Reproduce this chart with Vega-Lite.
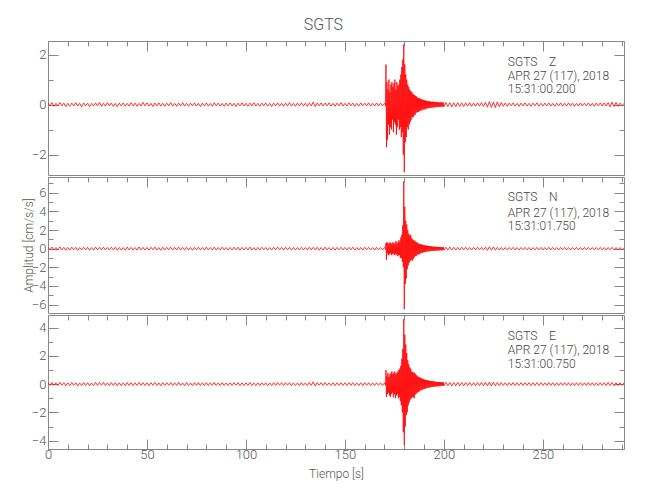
{
"$schema": "https://vega.github.io/schema/vega-lite/v6.json",
"padding": {"left": 21, "top": 17, "right": 5, "bottom": 5},
"title": {"text": "SGTS", "font": "Roboto", "fontSize": 16, "fontWeight": 300, "color": "#555", "offset": 7, "anchor": "middle"},
"spacing": 0,
"datasets": {
"w": [{
"t": [0,1,2,3,4,5,6,7,8,9,10,11,12,13,14,15,16,17,18,19,20,21,22,23,24,25,26,27,28,29,30,31,32,33,34,35,36,37,38,39,40,41,42,43,44,45,46,47,48,49,50,51,52,53,54,55,56,57,58,59,60,61,62,63,64,65,66,67,68,69,70,71,72,73,74,75,76,77,78,79,80,81,82,83,84,85,86,87,88,89,90,91,92,93,94,95,96,97,98,99,100,101,102,103,104,105,106,107,108,109,110,111,112,113,114,115,116,117,118,119,120,121,122,123,124,125,126,127,128,129,130,131,132,133,134,135,136,137,138,139,140,141,142,143,144,145,146,147,148,149,150,151,152,153,154,155,156,157,158,159,160,161,162,163,164,165,166,167,168,169,170,
170.25,170.5,170.75,171,171.25,171.5,171.75,172,172.25,172.5,172.75,173,173.25,173.5,173.75,174,174.25,174.5,174.75,175,175.25,175.5,175.75,176,176.25,176.5,176.75,177,177.25,177.5,177.75,178,178.25,178.5,178.75,179,179.25,179.5,179.75,180,
180.25,180.5,180.75,181,181.25,181.5,181.75,182,182.25,182.5,182.75,183,183.25,183.5,183.75,184,184.25,184.5,184.75,185,185.25,185.5,185.75,186,186.25,186.5,186.75,187,187.25,187.5,187.75,188,188.25,188.5,188.75,189,189.25,189.5,189.75,190,
190.25,190.5,190.75,191,191.25,191.5,191.75,192,192.25,192.5,192.75,193,193.25,193.5,193.75,194,194.25,194.5,194.75,195,195.25,195.5,195.75,196,196.25,196.5,196.75,197,197.25,197.5,197.75,198,198.25,198.5,198.75,199,199.25,199.5,199.75,200,
201,202,203,204,205,206,207,208,209,210,211,212,213,214,215,216,217,218,219,220,221,222,223,224,225,226,227,228,229,230,231,232,233,234,235,236,237,238,239,240,241,242,243,244,245,246,247,248,249,250,251,252,253,254,255,256,257,258,259,260,261,262,263,264,265,266,267,268,269,270,271,272,273,274,275,276,277,278,279,280,281,282,283,284,285,286,287,288,289,290,291],
"z": [0.06,-0.05,0.08,-0.07,0.05,-0.06,0.09,-0.05,0.06,-0.08,
0.05,-0.07,0.06,-0.05,0.08,-0.06,0.05,-0.09,0.07,-0.05,
0.06,-0.08,0.05,-0.06,0.07,-0.05,0.09,-0.07,0.05,-0.06,
0.08,-0.05,0.06,-0.07,0.05,-0.08,0.06,-0.05,0.07,-0.06,
0.05,-0.06,0.08,-0.05,0.06,-0.07,0.05,-0.06,0.09,-0.05,
0.07,-0.06,0.05,-0.08,0.06,-0.05,0.07,-0.06,0.05,-0.07,
0.06,-0.05,0.08,-0.06,0.05,-0.07,0.06,-0.05,0.08,-0.06,
0.05,-0.07,0.06,-0.05,0.07,-0.06,0.05,-0.08,0.06,-0.05,
0.07,-0.06,0.05,-0.07,0.08,-0.05,0.06,-0.06,0.05,-0.07,
0.06,-0.05,0.07,-0.06,0.05,-0.08,0.06,-0.05,0.07,-0.06,
0.05,-0.07,0.06,-0.05,0.08,-0.06,0.05,-0.07,0.06,-0.05,
0.07,-0.06,0.05,-0.08,0.06,-0.05,0.07,-0.06,0.05,-0.07,
0.06,-0.05,0.08,-0.06,0.05,-0.07,0.06,-0.05,0.07,-0.06,
0.05,-0.07,0.06,-0.05,0.1,-0.08,0.06,-0.05,0.07,-0.06,
0.06,-0.05,0.07,-0.06,0.05,-0.07,0.06,-0.05,0.08,-0.06,
0.05,-0.06,0.07,-0.05,0.06,-0.07,0.05,-0.06,0.07,-0.05,
0.06,-0.05,0.07,-0.06,0.05,-0.06,0.07,-0.05,0.06,-0.05,
0.05,
0.05,-0.06,1.6,-1.7, 0.9,-1.4,0.6,-0.8, 1.0,-1.2,0.5,-0.9, 0.8,-1.0,0.9,-0.6, 0.7,-1.1,0.85,-0.7,
1.0,-0.8,0.6,-1.2, 0.9,-0.9,0.75,-0.6, 0.8,-1.0,1.0,-0.9, 1.2,-1.3,1.5,-1.1, 1.8,-2.0,2.4,-2.7,
1.6,-1.5,1.2,-1.3, 1.0,-0.9,0.8,-1.0, 0.7,-0.8,0.6,-0.7, 0.55,-0.6,0.5,-0.5, 0.45,-0.5,0.4,-0.42,
0.38,-0.4,0.35,-0.33, 0.32,-0.3,0.28,-0.3, 0.26,-0.27,0.25,-0.24, 0.22,-0.24,0.21,-0.2, 0.2,-0.19,0.18,-0.2,
0.17,-0.18,0.16,-0.15, 0.15,-0.16,0.14,-0.14, 0.13,-0.14,0.13,-0.12, 0.12,-0.13,0.11,-0.12, 0.11,-0.12,0.12,-0.1,
0.1,-0.11,0.1,-0.1, 0.1,-0.09,0.1,-0.09, 0.09,-0.1,0.08,-0.09, 0.09,-0.08,0.09,-0.08, 0.08,-0.09,0.08,-0.08,
0.09,-0.08,0.08,-0.09,0.07,-0.08,0.08,-0.07,0.07,-0.08,
0.07,-0.06,0.08,-0.07,0.06,-0.07,0.07,-0.06,0.08,-0.07,
0.09,-0.1,0.12,-0.11,0.1,-0.12,0.11,-0.09,0.08,-0.07,
0.06,-0.07,0.06,-0.05,0.07,-0.06,0.05,-0.07,0.06,-0.05,
0.07,-0.06,0.05,-0.07,0.06,-0.05,0.07,-0.06,0.05,-0.06,
0.06,-0.05,0.07,-0.06,0.05,-0.07,0.06,-0.05,0.07,-0.06,
0.05,-0.06,0.07,-0.05,0.06,-0.07,0.05,-0.06,0.07,-0.05,
0.06,-0.05,0.07,-0.06,0.05,-0.07,0.06,-0.05,0.07,-0.06,
0.07,-0.06,0.08,-0.09,0.1,-0.08,0.09,-0.07,0.06,-0.05,
0.05],
"n": [0.15,-0.12,0.18,-0.14,0.12,-0.16,0.2,-0.13,0.15,-0.17,
0.13,-0.15,0.17,-0.12,0.14,-0.18,0.12,-0.14,0.16,-0.13,
0.14,-0.17,0.12,-0.15,0.18,-0.13,0.15,-0.12,0.17,-0.14,
0.12,-0.14,0.16,-0.13,0.15,-0.17,0.13,-0.15,0.12,-0.16,
0.17,-0.13,0.14,-0.16,0.12,-0.15,0.18,-0.12,0.14,-0.15,
0.13,-0.16,0.15,-0.12,0.17,-0.14,0.12,-0.17,0.15,-0.13,
0.14,-0.12,0.16,-0.15,0.13,-0.14,0.17,-0.13,0.12,-0.16,
0.15,-0.13,0.12,-0.17,0.14,-0.12,0.16,-0.14,0.13,-0.15,
0.16,-0.14,0.13,-0.12,0.17,-0.15,0.12,-0.13,0.16,-0.14,
0.12,-0.15,0.14,-0.13,0.16,-0.12,0.15,-0.17,0.13,-0.14,
0.14,-0.13,0.17,-0.15,0.12,-0.16,0.13,-0.14,0.15,-0.12,
0.13,-0.16,0.12,-0.14,0.15,-0.13,0.17,-0.12,0.14,-0.15,
0.15,-0.12,0.14,-0.16,0.13,-0.15,0.12,-0.14,0.16,-0.13,
0.12,-0.14,0.16,-0.13,0.15,-0.12,0.14,-0.17,0.13,-0.15,
0.16,-0.13,0.12,-0.15,0.14,-0.16,0.13,-0.12,0.15,-0.14,
0.13,-0.15,0.14,-0.12,0.16,-0.14,0.12,-0.15,0.13,-0.16,
0.15,-0.12,0.14,-0.13,0.12,-0.15,0.14,-0.12,0.13,-0.14,
0.12,
0.12,-0.1,0.6,-1.2, 0.7,-0.5,0.6,-0.7, 0.5,-0.6,0.7,-0.5, 0.6,-0.7,0.5,-0.6, 0.7,-0.5,0.6,-0.7,
0.5,-0.6,0.8,-0.6, 0.7,-0.8,0.6,-0.7, 0.9,-0.7,0.8,-1.0, 1.2,-1.0,1.5,-1.4, 2.5,-2.0,7.2,-6.5,
4.5,-3.8,3.0,-3.2, 2.6,-2.2,2.0,-1.8, 1.6,-1.5,1.4,-1.3, 1.5,-1.2,1.1,-1.3, 1.0,-1.1,0.9,-0.95,
0.85,-0.8,0.75,-0.8, 0.7,-0.65,0.6,-0.62, 0.55,-0.6,0.5,-0.52, 0.48,-0.46,0.45,-0.44, 0.42,-0.4,0.38,-0.4,
0.36,-0.35,0.34,-0.33, 0.32,-0.31,0.3,-0.29, 0.28,-0.29,0.27,-0.26, 0.26,-0.25,0.24,-0.25, 0.23,-0.24,0.22,-0.22,
0.21,-0.22,0.2,-0.21, 0.2,-0.19,0.19,-0.2, 0.18,-0.19,0.18,-0.17, 0.17,-0.18,0.16,-0.17, 0.16,-0.17,0.16,-0.15,
0.16,-0.15,0.17,-0.14,0.15,-0.16,0.14,-0.15,0.16,-0.13,
0.15,-0.14,0.13,-0.15,0.14,-0.13,0.15,-0.12,0.14,-0.13,
0.16,-0.18,0.2,-0.17,0.19,-0.16,0.15,-0.14,0.13,-0.15,
0.12,-0.14,0.13,-0.12,0.15,-0.13,0.12,-0.14,0.13,-0.12,
0.14,-0.12,0.13,-0.15,0.12,-0.13,0.14,-0.12,0.13,-0.14,
0.12,-0.13,0.15,-0.12,0.14,-0.13,0.12,-0.14,0.13,-0.12,
0.14,-0.13,0.12,-0.15,0.13,-0.12,0.14,-0.13,0.12,-0.14,
0.13,-0.12,0.15,-0.13,0.12,-0.14,0.13,-0.12,0.14,-0.13,
0.12,-0.14,0.13,-0.12,0.15,-0.13,0.12,-0.14,0.13,-0.12,
0.1],
"e": [0.1,-0.08,0.12,-0.09,0.08,-0.11,0.13,-0.08,0.1,-0.12,
0.09,-0.1,0.12,-0.08,0.1,-0.13,0.08,-0.1,0.11,-0.09,
0.1,-0.12,0.08,-0.1,0.13,-0.09,0.11,-0.08,0.12,-0.1,
0.08,-0.1,0.11,-0.09,0.1,-0.12,0.09,-0.11,0.08,-0.11,
0.12,-0.09,0.1,-0.11,0.08,-0.1,0.13,-0.08,0.1,-0.1,
0.09,-0.11,0.1,-0.08,0.12,-0.1,0.08,-0.12,0.1,-0.09,
0.1,-0.08,0.11,-0.1,0.09,-0.1,0.12,-0.09,0.08,-0.11,
0.11,-0.09,0.08,-0.12,0.1,-0.08,0.11,-0.1,0.09,-0.1,
0.11,-0.1,0.09,-0.08,0.12,-0.1,0.08,-0.09,0.11,-0.1,
0.08,-0.1,0.1,-0.09,0.11,-0.08,0.1,-0.12,0.09,-0.1,
0.1,-0.09,0.12,-0.1,0.08,-0.11,0.09,-0.1,0.1,-0.08,
0.09,-0.11,0.08,-0.1,0.1,-0.09,0.12,-0.08,0.1,-0.1,
0.1,-0.08,0.1,-0.11,0.09,-0.1,0.08,-0.1,0.11,-0.09,
0.08,-0.1,0.11,-0.09,0.16,-0.13,0.1,-0.08,0.1,-0.1,
0.11,-0.09,0.08,-0.1,0.1,-0.11,0.09,-0.08,0.1,-0.1,
0.09,-0.1,0.1,-0.08,0.11,-0.1,0.08,-0.1,0.09,-0.11,
0.1,-0.08,0.1,-0.09,0.08,-0.1,0.1,-0.08,0.09,-0.1,
0.08,
0.08,-0.1,1.0,-0.9, 0.6,-0.7,0.8,-0.6, 0.5,-0.8,0.7,-0.9, 0.8,-0.7,0.9,-0.6, 0.7,-0.9,0.8,-0.7,
0.9,-1.0,0.7,-0.8, 0.8,-0.7,0.9,-1.0, 1.0,-0.9,1.1,-1.2, 1.3,-1.5,1.8,-2.0, 2.5,-3.4,4.6,-4.3,
3.5,-3.0,2.8,-2.2, 2.2,-2.0,1.7,-1.5, 1.4,-1.3,1.2,-1.1, 1.1,-1.0,0.9,-0.95, 0.85,-0.9,0.8,-1.0,
0.8,-0.75,0.7,-0.7, 0.62,-0.6,0.55,-0.57, 0.5,-0.52,0.48,-0.46, 0.44,-0.42,0.4,-0.41, 0.38,-0.37,0.35,-0.34,
0.32,-0.33,0.3,-0.29, 0.28,-0.27,0.26,-0.26, 0.25,-0.24,0.23,-0.23, 0.22,-0.21,0.21,-0.2, 0.2,-0.19,0.19,-0.18,
0.18,-0.17,0.17,-0.17, 0.16,-0.16,0.15,-0.15, 0.15,-0.14,0.14,-0.14, 0.14,-0.13,0.13,-0.13, 0.13,-0.12,0.13,-0.12,
0.13,-0.12,0.12,-0.13,0.11,-0.12,0.12,-0.11,0.11,-0.12,
0.11,-0.1,0.12,-0.11,0.1,-0.11,0.11,-0.1,0.12,-0.11,
0.12,-0.13,0.14,-0.12,0.13,-0.12,0.11,-0.1,0.11,-0.1,
0.09,-0.1,0.1,-0.09,0.11,-0.1,0.09,-0.1,0.1,-0.09,
0.1,-0.09,0.1,-0.11,0.09,-0.1,0.1,-0.09,0.1,-0.1,
0.09,-0.1,0.11,-0.09,0.1,-0.1,0.09,-0.1,0.1,-0.09,
0.1,-0.09,0.1,-0.11,0.09,-0.1,0.1,-0.09,0.1,-0.1,
0.09,-0.1,0.11,-0.09,0.1,-0.1,0.09,-0.1,0.1,-0.09,
0.1,-0.11,0.12,-0.1,0.11,-0.12,0.1,-0.11,0.1,-0.09,
0.08]
}]
},
"vconcat": [
{
"width": 576, "height": 134,
"resolve": {"axis": {"x": "independent", "y": "independent"}},
"layer": [
{"data": {"name": "w"}, "transform": [{"flatten": ["t", "z", "n", "e"]}],
 "mark": {"type": "line", "color": "#ff0000", "strokeWidth": 0.8, "clip": true},
 "encoding": {
  "x": {"field": "t", "type": "quantitative", "scale": {"domain": [0, 291], "nice": false, "zero": false}, "axis": {"orient": "top", "values": [0,10,20,30,40,50,60,70,80,90,100,110,120,130,140,150,160,170,180,190,200,210,220,230,240,250,260,270,280,290], "tickSize": -5, "labels": false, "title": null}},
  "y": {"field": "z", "type": "quantitative", "scale": {"domain": [-2.81, 2.54], "nice": false, "zero": false}, "axis": {"orient": "left", "values": [-1, 1], "tickSize": -5, "labels": false, "title": null}}
 }},
{"data": {"values": [{"t": 232.3, "v": 1.72, "s": "SGTS\u00a0\u00a0\u00a0\u00a0Z"}, {"t": 232.3, "v": 1.15, "s": "APR 27 (117), 2018"}, {"t": 232.3, "v": 0.61, "s": "15:31:00.200"}]},
 "mark": {"type": "text", "align": "left", "baseline": "middle", "font": "Roboto", "fontWeight": 300, "fontSize": 12, "color": "#444"},
 "encoding": {
  "x": {"field": "t", "type": "quantitative", "axis": {"orient": "top", "values": [0, 50, 100, 150, 200, 250], "tickSize": -10, "labels": false, "title": null}},
  "y": {"field": "v", "type": "quantitative", "axis": {"orient": "left", "values": [-2, 0, 2], "tickSize": -10, "labelPadding": 12, "title": null}},
  "text": {"field": "s"}
 }},
{"data": {"values": [{"t": 0, "v": 0}]},
 "mark": {"type": "point", "opacity": 0},
 "encoding": {
  "x": {"field": "t", "type": "quantitative", "axis": null},
  "y": {"field": "v", "type": "quantitative", "axis": {"orient": "right", "values": [-1, 1], "tickSize": -5, "labels": false, "title": null}}
 }},
{"data": {"values": [{"t": 0, "v": 0}]},
 "mark": {"type": "point", "opacity": 0},
 "encoding": {
  "x": {"field": "t", "type": "quantitative", "axis": null},
  "y": {"field": "v", "type": "quantitative", "axis": {"orient": "right", "values": [-2, 0, 2], "tickSize": -10, "labels": false, "title": null}}
 }}
]
},
{
"width": 576, "height": 136,
"resolve": {"axis": {"x": "independent", "y": "independent"}},
"layer": [
{"data": {"name": "w"}, "transform": [{"flatten": ["t", "z", "n", "e"]}],
 "mark": {"type": "line", "color": "#ff0000", "strokeWidth": 0.8, "clip": true},
 "encoding": {
  "x": {"field": "t", "type": "quantitative", "scale": {"domain": [0, 291], "nice": false, "zero": false}, "axis": {"orient": "top", "values": [0,10,20,30,40,50,60,70,80,90,100,110,120,130,140,150,160,170,180,190,200,210,220,230,240,250,260,270,280,290], "tickSize": -5, "labels": false, "title": null}},
  "y": {"field": "n", "type": "quantitative", "scale": {"domain": [-6.9, 7.69], "nice": false, "zero": false}, "axis": {"orient": "left", "values": [-7, -5, -3, -1, 1, 3, 5, 7], "tickSize": -5, "labels": false, "title": null}}
 }},
{"data": {"values": [{"t": 232.3, "v": 5.54, "s": "SGTS\u00a0\u00a0\u00a0\u00a0N"}, {"t": 232.3, "v": 3.85, "s": "APR 27 (117), 2018"}, {"t": 232.3, "v": 2.39, "s": "15:31:01.750"}]},
 "mark": {"type": "text", "align": "left", "baseline": "middle", "font": "Roboto", "fontWeight": 300, "fontSize": 12, "color": "#444"},
 "encoding": {
  "x": {"field": "t", "type": "quantitative", "axis": {"orient": "top", "values": [0, 50, 100, 150, 200, 250], "tickSize": -10, "labels": false, "title": null}},
  "y": {"field": "v", "type": "quantitative", "axis": {"orient": "left", "values": [-6, -4, -2, 0, 2, 4, 6], "tickSize": -10, "labelPadding": 12, "title": "Amplitud [cm/s/s]", "titlePadding": -4}},
  "text": {"field": "s"}
 }},
{"data": {"values": [{"t": 0, "v": 0}]},
 "mark": {"type": "point", "opacity": 0},
 "encoding": {
  "x": {"field": "t", "type": "quantitative", "axis": null},
  "y": {"field": "v", "type": "quantitative", "axis": {"orient": "right", "values": [-7, -5, -3, -1, 1, 3, 5, 7], "tickSize": -5, "labels": false, "title": null}}
 }},
{"data": {"values": [{"t": 0, "v": 0}]},
 "mark": {"type": "point", "opacity": 0},
 "encoding": {
  "x": {"field": "t", "type": "quantitative", "axis": null},
  "y": {"field": "v", "type": "quantitative", "axis": {"orient": "right", "values": [-6, -4, -2, 0, 2, 4, 6], "tickSize": -10, "labels": false, "title": null}}
 }}
]
},
{
"width": 576, "height": 134,
"resolve": {"axis": {"x": "independent", "y": "independent"}},
"layer": [
{"data": {"name": "w"}, "transform": [{"flatten": ["t", "z", "n", "e"]}],
 "mark": {"type": "line", "color": "#ff0000", "strokeWidth": 0.8, "clip": true},
 "encoding": {
  "x": {"field": "t", "type": "quantitative", "scale": {"domain": [0, 291], "nice": false, "zero": false}, "axis": {"orient": "top", "values": [0,10,20,30,40,50,60,70,80,90,100,110,120,130,140,150,160,170,180,190,200,210,220,230,240,250,260,270,280,290], "tickSize": -5, "labels": false, "title": null}},
  "y": {"field": "e", "type": "quantitative", "scale": {"domain": [-4.59, 4.89], "nice": false, "zero": false}, "axis": {"orient": "left", "values": [-3, -1, 1, 3], "tickSize": -5, "labels": false, "title": null}}
 }},
{"data": {"values": [{"t": 232.3, "v": 3.41, "s": "SGTS\u00a0\u00a0\u00a0\u00a0E"}, {"t": 232.3, "v": 2.42, "s": "APR 27 (117), 2018"}, {"t": 232.3, "v": 1.41, "s": "15:31:00.750"}]},
 "mark": {"type": "text", "align": "left", "baseline": "middle", "font": "Roboto", "fontWeight": 300, "fontSize": 12, "color": "#444"},
 "encoding": {
  "x": {"field": "t", "type": "quantitative", "axis": {"orient": "top", "values": [0, 50, 100, 150, 200, 250], "tickSize": -10, "labels": false, "title": null}},
  "y": {"field": "v", "type": "quantitative", "axis": {"orient": "left", "values": [-4, -2, 0, 2, 4], "tickSize": -10, "labelPadding": 12, "title": null}},
  "text": {"field": "s"}
 }},
{"data": {"values": [{"t": 0, "v": 0}]},
 "mark": {"type": "point", "opacity": 0},
 "encoding": {
  "x": {"field": "t", "type": "quantitative", "axis": {"orient": "bottom", "values": [0, 50, 100, 150, 200, 250], "tickSize": -10, "labelPadding": 9, "title": "Tiempo [s]", "titlePadding": 7}},
  "y": {"field": "v", "type": "quantitative", "axis": {"orient": "right", "values": [-3, -1, 1, 3], "tickSize": -5, "labels": false, "title": null}}
 }},
{"data": {"values": [{"t": 0, "v": 0}]},
 "mark": {"type": "point", "opacity": 0},
 "encoding": {
  "x": {"field": "t", "type": "quantitative", "axis": {"orient": "bottom", "values": [0,10,20,30,40,50,60,70,80,90,100,110,120,130,140,150,160,170,180,190,200,210,220,230,240,250,260,270,280,290], "tickSize": -5, "labels": false, "title": null}},
  "y": {"field": "v", "type": "quantitative", "axis": {"orient": "right", "values": [-4, -2, 0, 2, 4], "tickSize": -10, "labels": false, "title": null}}
 }}
]
}
],
"config": {
 "view": {"stroke": "#888", "strokeWidth": 1},
 "concat": {"spacing": 0},
 "axis": {"domain": false, "grid": false, "tickColor": "#888", "tickWidth": 1, "labelColor": "#555", "labelFont": "Roboto", "labelFontWeight": 300, "labelFontSize": 13, "titleFont": "Roboto", "titleFontSize": 12, "titleFontWeight": 300, "titleColor": "#555", "labelFlush": false, "labelOverlap": false}
}
}
